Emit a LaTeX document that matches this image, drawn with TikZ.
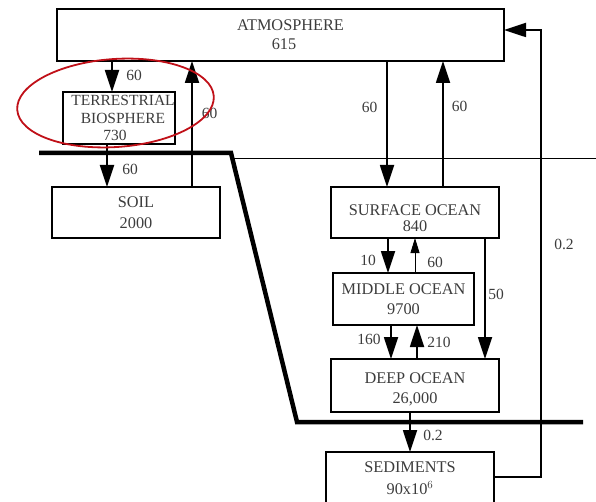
\documentclass[tikz,border=0pt]{standalone}
\usepackage{fontspec}
\setmainfont{Liberation Serif}
\usetikzlibrary{arrows.meta}
\definecolor{txtgray}{RGB}{60,60,60}
\definecolor{ringred}{RGB}{192,16,24}

\begin{document}
\begin{tikzpicture}[x=1bp,y=-1bp,inner sep=0pt,outer sep=0pt,
  box/.style={draw,line width=1.8bp,align=center,text=txtgray,font=\fontsize{16.3bp}{20bp}\selectfont},
  flow/.style={line width=1.8bp,-{Triangle[length=22bp,width=14bp]}},
  thinflow/.style={line width=0.9bp,-{Triangle[length=15bp,width=9bp]}},
  lbl/.style={text=txtgray,font=\fontsize{15.5bp}{16bp}\selectfont}]
  \useasboundingbox (0,0) rectangle (596,502);
  \clip (0,0) rectangle (596,502);
  % reservoirs
  \node[box,minimum width=447bp,minimum height=52bp] (atm) at (280.5,35) {\hspace*{20bp}ATMOSPHERE\\[-1bp]\hspace*{7bp}615};
  \node[box,minimum width=112bp,minimum height=52bp,font=\fontsize{15.5bp}{20bp}\selectfont] (terr) at (119,118) {\hspace*{8bp}TERRESTRIAL\\[-2.5bp]\hspace*{8bp}BIOSPHERE\\[-2.5bp]730\hspace*{8bp}};
  \node[box,minimum width=168bp,minimum height=51bp] (soil) at (136,212.5) {SOIL\\[1bp]2000};
  \node[box,minimum width=168bp,minimum height=51bp] (surf) at (415,212.5) {\rule{0pt}{22bp}SURFACE OCEAN\\[-4bp]840};
  \node[box,minimum width=141bp,minimum height=52bp] (mid) at (403.5,299) {MIDDLE OCEAN\\9700};
  \node[box,minimum width=168bp,minimum height=53bp] (deep) at (415,385.5) {\rule{0pt}{18bp}DEEP OCEAN\\26,000};
  \node[box,minimum width=168bp,minimum height=52bp] (sed) at (410,478) {SEDIMENTS\\[2bp]90x10$^6$};
  % boundaries
  \draw[line width=4.5bp] (39,153) -- (231,153) -- (297,422) -- (583,422);
  \draw[line width=0.9bp] (232,158) -- (596,158);
  % land fluxes
  \draw[flow] (atm.south -| 112,0) -- (terr.north -| 112,0);
  \draw[flow] (terr.south -| 107,0) -- (soil.north -| 107,0);
  \draw[flow] (soil.north -| 192,0) -- (atm.south -| 192,0);
  \node[lbl] (l1) at (134,75) {60};
  \node[lbl] (l2) at (130,169) {60};
  \node[lbl] (l3) at (209.5,113) {60};
  % ocean fluxes
  \draw[flow] (atm.south -| 387,0) -- (surf.north -| 387,0);
  \draw[flow] (surf.north -| 443,0) -- (atm.south -| 443,0);
  \draw[flow] (surf.south -| 388,0) -- (mid.north -| 388,0);
  \draw[thinflow] (mid.north -| 415,0) -- (surf.south -| 415,0);
  \draw[flow] (surf.south -| 485,0) -- (deep.north -| 485,0);
  \draw[flow] (mid.south -| 391,0) -- (deep.north -| 391,0);
  \draw[flow] (deep.north -| 417,0) -- (mid.south -| 417,0);
  \draw[flow] (deep.south -| 410,0) -- (sed.north -| 410,0);
  \coordinate (loop) at (541,30);
  \draw[flow] (sed.east |- 0,477) -| (loop) -- (atm.east |- loop);
  \node[lbl] (l4) at (369.5,107) {60};
  \node[lbl] (l5) at (459.5,106) {60};
  \node[lbl] (l6) at (368,260) {10};
  \node[lbl] (l7) at (435,262) {60};
  \node[lbl] (l8) at (496,294) {50};
  \node[lbl] (l9) at (369,339) {160};
  \node[lbl] (l10) at (439,342) {210};
  \node[lbl] (l11) at (433,435) {0.2};
  \node[lbl] (l12) at (564,244) {0.2};
  % highlight
  \draw[ringred,line width=1.8bp,rotate around={4:(115.5,103)}] (115.5,103) ellipse [x radius=98.5,y radius=44];
\end{tikzpicture}
\end{document}
